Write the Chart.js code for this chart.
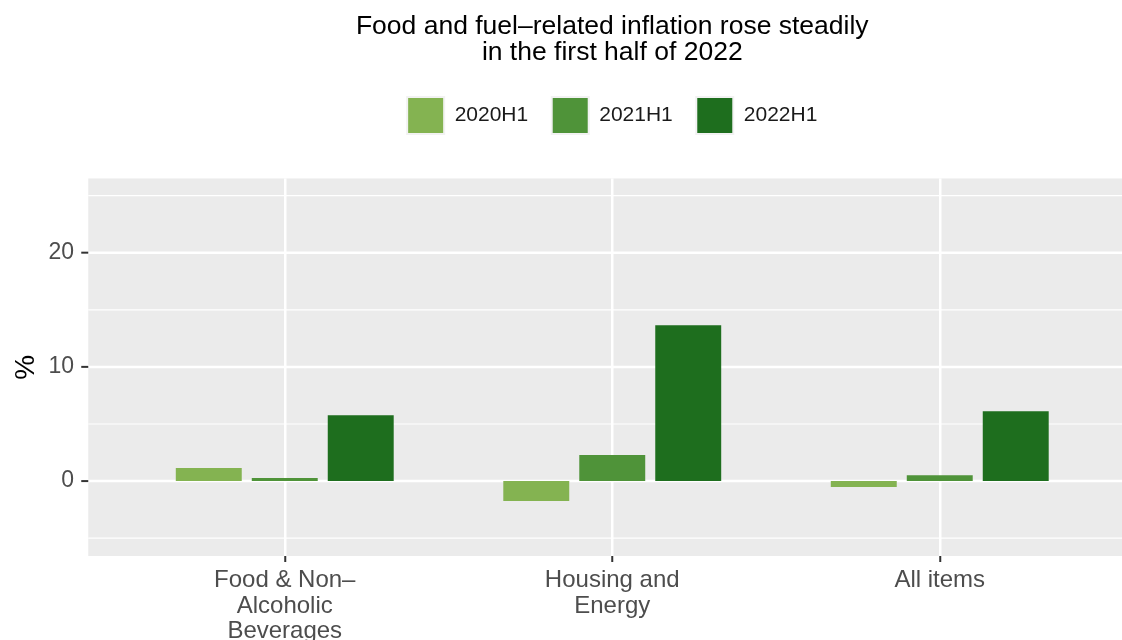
<!DOCTYPE html>
<html>
<head>
<meta charset="utf-8">
<script src="https://cdn.jsdelivr.net/npm/chart.js@4.4.1/dist/chart.umd.min.js"></script>
<style>
  body { margin: 0; background: #fff; }
  #wrap { width: 1122px; height: 640px; position: relative; }
</style>
</head>
<body>
<div id="wrap"><canvas id="barChart"></canvas></div>
<script>
// values
var categories = [['Food & Non\u2013', 'Alcoholic', 'Beverages'], ['Housing and', 'Energy'], ['All items']];
var seriesNames = ['2020H1', '2021H1', '2022H1'];
var h2020 = [1.14, -1.75, -0.52];
var h2021 = [0.26, 2.28, 0.52];
var h2022 = [5.77, 13.65, 6.12];
var yTicks = [-5, 0, 5, 10, 15, 20, 25];
var colors = ['#84B351', '#4F9339', '#1E6E1E'];

var fam = '"Liberation Sans", Arial, sans-serif';

// ggplot-like grey panel, a bit wider than the chart area
var panelPlugin = {
    id: 'panel',
    beforeDraw: function (chart) {
        var ctx = chart.ctx;
        var area = chart.chartArea;
        var y = chart.scales.y;
        var unit = (area.right - area.left) / categories.length;
        var left = area.left - 0.1 * unit;
        var right = chart.width;
        ctx.save();
        ctx.fillStyle = '#EBEBEB';
        ctx.fillRect(left, area.top, right - left, area.bottom - area.top);
        ctx.strokeStyle = '#FFFFFF';
        yTicks.forEach(function (v) {
            var py = y.getPixelForValue(v);
            ctx.lineWidth = (v % 10 === 0) ? 2.5 : 1.2;
            ctx.beginPath();
            ctx.moveTo(left, py);
            ctx.lineTo(right, py);
            ctx.stroke();
            if (v % 10 === 0) {
                ctx.strokeStyle = '#333333';
                ctx.lineWidth = 2;
                ctx.beginPath();
                ctx.moveTo(left - 7, py);
                ctx.lineTo(left, py);
                ctx.stroke();
                ctx.strokeStyle = '#FFFFFF';
            }
        });
        ctx.restore();
    }
};

var legendMargin = {
    id: 'legendMargin',
    beforeInit: function (chart) {
        var fit = chart.legend.fit;
        chart.legend.fit = function () {
            fit.bind(chart.legend)();
            this.height += 34.5;
        };
    }
};

var series = [h2020, h2021, h2022];
var obj = [];
for (let i = 0; i < seriesNames.length; i++) {
    obj.push({
        label: seriesNames[i],
        data: series[i],
        backgroundColor: colors[i],
        borderWidth: 0,
        categoryPercentage: 0.696,
        barPercentage: 0.868
    });
}

new Chart(document.getElementById('barChart').getContext('2d'), {
    type: 'bar',
    data: { labels: categories, datasets: obj },
    plugins: [panelPlugin, legendMargin],
    options: {
        responsive: true,
        maintainAspectRatio: false,
        animation: false,
        layout: { padding: { left: 0, right: 18.5, top: 0, bottom: 0 } },
        plugins: {
            tooltip: { enabled: false },
            title: {
                display: true,
                fullSize: false,
                text: ['Food and fuel\u2013related inflation rose steadily', 'in the first half of 2022'],
                color: '#000',
                font: { family: fam, size: 26.5, weight: 'normal', lineHeight: 0.98 },
                padding: { top: 14, bottom: 7.5 }
            },
            legend: {
                display: true,
                fullSize: false,
                labels: {
                    boxWidth: 37,
                    boxHeight: 37,
                    padding: 23.5,
                    color: '#1A1A1A',
                    font: { family: fam, size: 21 },
                    generateLabels: function (chart) {
                        return Chart.defaults.plugins.legend.labels.generateLabels(chart).map(function (l) {
                            l.strokeStyle = '#F2F2F2';
                            l.lineWidth = 2;
                            return l;
                        });
                    }
                }
            }
        },
        scales: {
            x: {
                offset: true,
                grid: { offset: false, color: '#FFFFFF', lineWidth: 2.5, drawTicks: true, tickLength: 6, tickColor: '#333333', tickWidth: 2 },
                border: { display: false },
                ticks: { color: '#4D4D4D', font: { family: fam, size: 24, lineHeight: 1.08 }, padding: 5, maxRotation: 0, autoSkip: false },
                afterFit: function (s) { s.height = 84; }
            },
            y: {
                min: -6.56,
                max: 26.5,
                afterBuildTicks: function (s) { s.ticks = yTicks.map(function (v) { return { value: v }; }); },
                grid: { display: false },
                border: { display: false },
                ticks: {
                    color: '#4D4D4D',
                    font: { family: fam, size: 23 },
                    padding: 39,
                    callback: function (v) { return v % 10 === 0 ? v : ''; }
                },
                title: { display: true, text: '%', color: '#000', font: { family: fam, size: 28 }, padding: { top: 9, bottom: 0 } },
                afterFit: function (s) { s.width = 121; }
            }
        }
    }
});
</script>
</body>
</html>
